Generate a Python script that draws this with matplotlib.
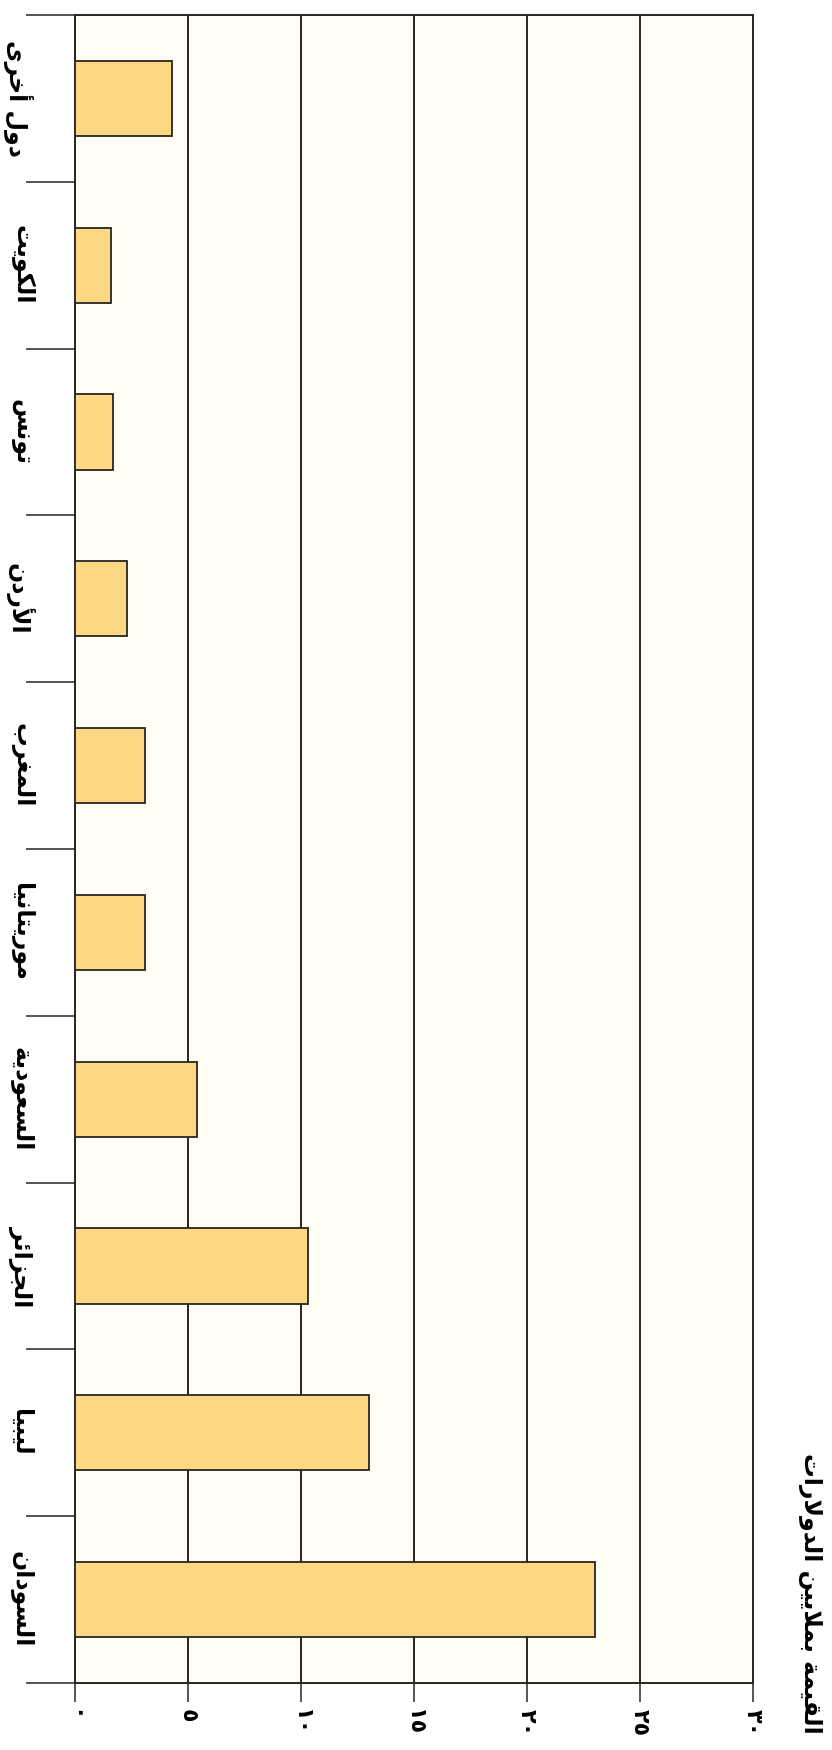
import numpy as np
import matplotlib
matplotlib.use("Agg")
import matplotlib.pyplot as plt

# ---------------- data ----------------
categories = ["دول أخرى", "الكويت", "تونس", "الأردن", "المغرب",
              "موريتانيا", "السعودية", "الجزائر", "ليبيا", "السودان"]
values = [4.3, 1.6, 1.7, 2.3, 3.1, 3.1, 5.4, 10.3, 13.0, 23.0]
x_ticks = [0, 5, 10, 15, 20, 25, 30]
x_tick_labels = ["٠", "٥", "١٠", "١٥", "٢٠", "٢٥", "٣٠"]
axis_title = "القيمة بملايين الدولارات"

# ------------- minimal Arabic shaping (presentation forms) -------------
FORMS = {
    'ا': ('\uFE8D', '\uFE8E', None, None),
    'أ': ('\uFE83', '\uFE84', None, None),
    'إ': ('\uFE87', '\uFE88', None, None),
    'آ': ('\uFE81', '\uFE82', None, None),
    'ب': ('\uFE8F', '\uFE90', '\uFE91', '\uFE92'),
    'ة': ('\uFE93', '\uFE94', None, None),
    'ت': ('\uFE95', '\uFE96', '\uFE97', '\uFE98'),
    'ج': ('\uFE9D', '\uFE9E', '\uFE9F', '\uFEA0'),
    'خ': ('\uFEA5', '\uFEA6', '\uFEA7', '\uFEA8'),
    'د': ('\uFEA9', '\uFEAA', None, None),
    'ر': ('\uFEAD', '\uFEAE', None, None),
    'ز': ('\uFEAF', '\uFEB0', None, None),
    'س': ('\uFEB1', '\uFEB2', '\uFEB3', '\uFEB4'),
    'ع': ('\uFEC9', '\uFECA', '\uFECB', '\uFECC'),
    'غ': ('\uFECD', '\uFECE', '\uFECF', '\uFED0'),
    'ق': ('\uFED5', '\uFED6', '\uFED7', '\uFED8'),
    'ك': ('\uFED9', '\uFEDA', '\uFEDB', '\uFEDC'),
    'ل': ('\uFEDD', '\uFEDE', '\uFEDF', '\uFEE0'),
    'م': ('\uFEE1', '\uFEE2', '\uFEE3', '\uFEE4'),
    'ن': ('\uFEE5', '\uFEE6', '\uFEE7', '\uFEE8'),
    'ه': ('\uFEE9', '\uFEEA', '\uFEEB', '\uFEEC'),
    'و': ('\uFEED', '\uFEEE', None, None),
    'ى': ('\uFEEF', '\uFEF0', None, None),
    'ي': ('\uFEF1', '\uFEF2', '\uFEF3', '\uFEF4'),
    'ئ': ('\uFE89', '\uFE8A', '\uFE8B', '\uFE8C'),
}
LAM_ALEF = {'ا': ('\uFEFB', '\uFEFC'), 'أ': ('\uFEF7', '\uFEF8'),
            'إ': ('\uFEF9', '\uFEFA'), 'آ': ('\uFEF5', '\uFEF6')}


def _dual(c):
    return c in FORMS and FORMS[c][2] is not None


def shape(s):
    out = []
    i, n = 0, len(s)
    while i < n:
        c = s[i]
        if c not in FORMS:
            out.append(c)
            i += 1
            continue
        prev_joins = i > 0 and _dual(s[i - 1])
        if c == 'ل' and i + 1 < n and s[i + 1] in LAM_ALEF:
            out.append(LAM_ALEF[s[i + 1]][1 if prev_joins else 0])
            i += 2
            continue
        next_joins = _dual(c) and i + 1 < n and s[i + 1] in FORMS
        f = FORMS[c]
        if prev_joins and next_joins:
            g = f[3]
        elif prev_joins:
            g = f[1]
        elif next_joins:
            g = f[2]
        else:
            g = f[0]
        out.append(g)
        i += 1
    return ''.join(reversed(out))


plt.rcParams['font.family'] = ['DejaVu Sans']
ink = '#262626'

W, H = 832, 1750
fig = plt.figure(figsize=(W / 100, H / 100), dpi=100)
fig.patch.set_facecolor('white')
x0, x1, y0, y1 = 75, 753, 15, 1683
ax = fig.add_axes([x0 / W, 1 - y1 / H, (x1 - x0) / W, (y1 - y0) / H])
ax.set_facecolor('#FFFDF4')

ypos = np.arange(len(categories))
ax.barh(ypos, values, height=0.45, color='#FDD883', edgecolor=ink,
        linewidth=1.3, zorder=3)

ax.set_xlim(0, 30)
ax.set_ylim(len(categories) - 0.5, -0.5)

ax.set_xticks(x_ticks)
ax.set_xticklabels(x_tick_labels, rotation=-90, fontsize=16,
                   fontweight='bold')
ax.grid(axis='x', color=ink, linewidth=1.4, zorder=1)
ax.set_axisbelow(True)
ax.tick_params(axis='x', length=13.5, width=1.1, color=ink, pad=5)

ax.set_yticks(ypos)
ax.set_yticklabels([shape(c) for c in categories], rotation=-90,
                   fontsize=17, va='center', fontweight='bold')
ax.tick_params(axis='y', which='major', length=0, pad=30)
ax.set_yticks(np.arange(-0.5, len(categories), 1), minor=True)
ax.tick_params(axis='y', which='minor', length=35, width=1.1, color=ink)

for sp in ax.spines.values():
    sp.set_color(ink)
    sp.set_linewidth(1.4)

fig.text(810 / W, 1 - 1593 / H, shape(axis_title), rotation=-90,
         ha='center', va='center', fontsize=17, fontweight='bold')

fig.savefig('out.png', dpi=100)
